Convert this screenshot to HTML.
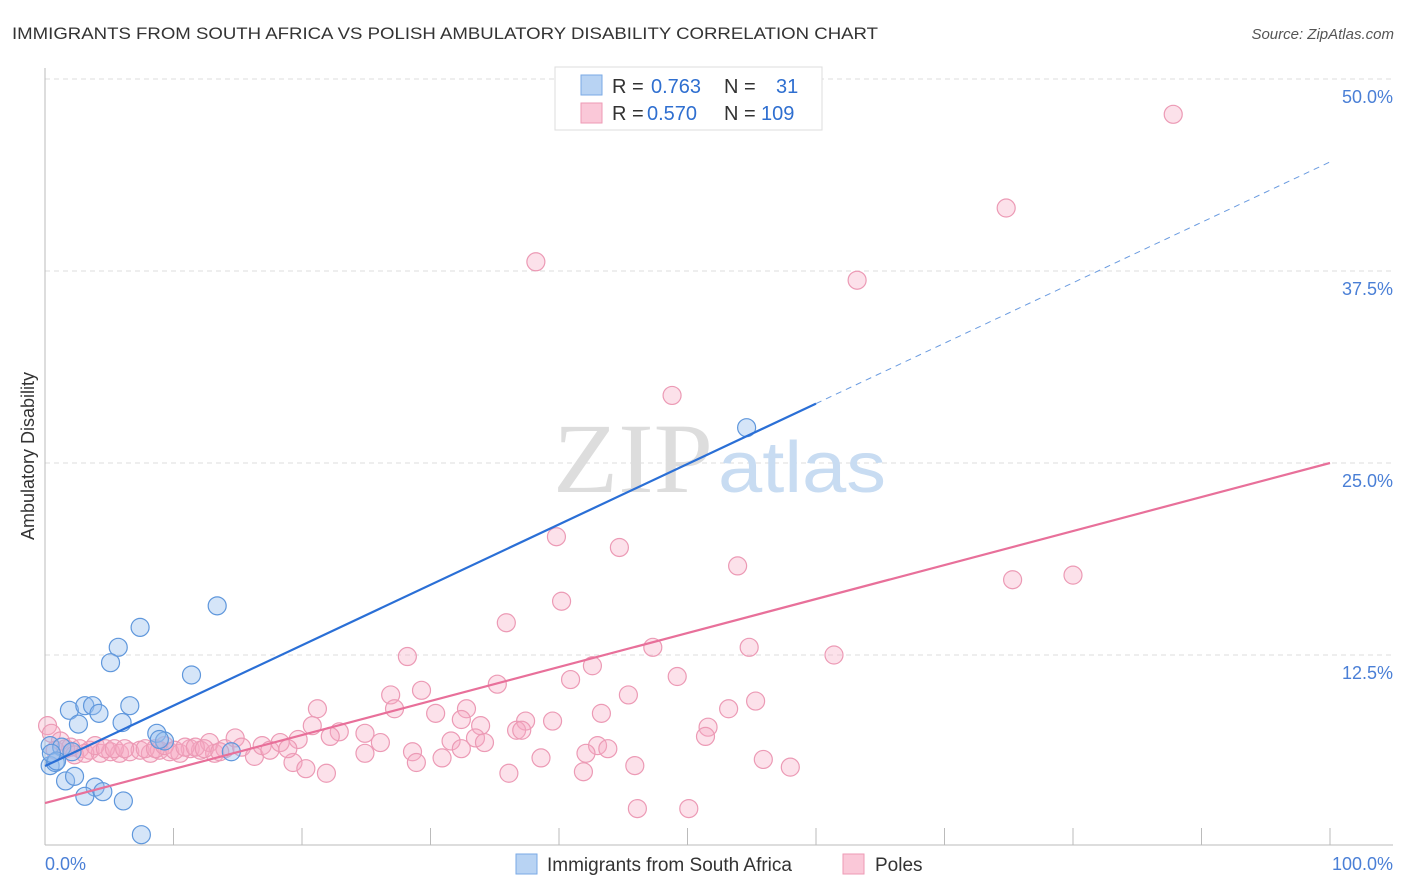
<!DOCTYPE html>
<html><head><meta charset="utf-8"><style>
body{margin:0;background:#fff;font-family:"Liberation Sans",sans-serif;}
svg{display:block}
</style></head><body>
<svg id="chart" width="1406" height="892" font-family="Liberation Sans, sans-serif">
<text x="12" y="39" font-size="17" fill="#333" textLength="866" lengthAdjust="spacingAndGlyphs">IMMIGRANTS FROM SOUTH AFRICA VS POLISH AMBULATORY DISABILITY CORRELATION CHART</text>
<text x="1394" y="39" font-size="15" fill="#555" font-style="italic" text-anchor="end">Source: ZipAtlas.com</text>
<text x="34" y="456" font-size="18" fill="#333" text-anchor="middle" transform="rotate(-90 34 456)">Ambulatory Disability</text>
<g id="grid"></g>
<g id="watermark">
<text x="553" y="492" font-size="100" fill="#ddd" font-family="Liberation Serif, serif" textLength="160" lengthAdjust="spacingAndGlyphs">ZIP</text>
<text x="718" y="492" font-size="72" fill="#c8dcf2" textLength="168" lengthAdjust="spacingAndGlyphs">atlas</text>
</g>
<g id="axes"></g>
<g id="pinkPts"></g>
<g id="bluePts"></g>
<g id="lines"></g>
<g>
<rect x="555" y="67" width="267" height="63" fill="#fff" stroke="#ddd"/>
<rect x="581" y="75" width="21" height="20" fill="#b8d3f3" stroke="#7aa9e6"/>
<rect x="581" y="103" width="21" height="20" fill="#fac8d8" stroke="#ee9ab5"/>
<text font-size="20" fill="#333"><tspan x="612" y="93">R = </tspan><tspan x="651" fill="#2f6fd0">0.763</tspan><tspan x="724">N = </tspan><tspan x="776" fill="#2f6fd0">31</tspan></text>
<text font-size="20" fill="#333"><tspan x="612" y="120">R = </tspan><tspan x="647" fill="#2f6fd0">0.570</tspan><tspan x="724">N = </tspan><tspan x="761" fill="#2f6fd0">109</tspan></text>
</g>
<g>
<rect x="516" y="854" width="21" height="20" fill="#b8d3f3" stroke="#7aa9e6"/>
<text x="547" y="871" font-size="19" fill="#333">Immigrants from South Africa</text>
<rect x="843" y="854" width="21" height="20" fill="#fac8d8" stroke="#ee9ab5"/>
<text x="875" y="871" font-size="19" fill="#333">Poles</text>
</g>
<text x="45" y="870" font-size="18" fill="#4a7fd6">0.0%</text>
<text x="1393" y="870" font-size="18" fill="#4a7fd6" text-anchor="end">100.0%</text>
</svg>
<script>
const yTicks=[50,37.5,25,12.5];
const yTickLabels=["50.0%","37.5%","25.0%","12.5%"];
const blueX=[13.4,7.4,5.7,5.1,11.4,1.9,3.1,3.7,4.2,6.6,2.6,6.0,8.7,9.3,8.9,14.5,0.4,1.3,2.1,0.4,0.8,0.9,1.6,2.3,3.9,4.5,3.1,6.1,7.5,54.6,0.5];
const blueY=[15.7,14.3,13.0,12.0,11.2,8.9,9.2,9.2,8.7,9.2,8.0,8.1,7.4,6.9,7.0,6.2,6.6,6.5,6.2,5.3,5.5,5.6,4.3,4.6,3.9,3.6,3.3,3.0,0.8,27.3,6.1];
const pinkX=[87.8,74.8,38.2,63.2,48.8,39.8,44.7,53.9,75.3,80.0,40.2,35.9,28.2,42.6,47.3,54.8,61.4,40.9,49.2,35.2,26.9,29.3,45.4,55.3,21.2,27.2,43.3,53.2,30.4,32.8,32.4,20.8,33.9,37.4,39.5,51.6,36.7,22.9,24.9,33.5,37.1,51.4,22.2,31.6,34.2,26.1,43.0,43.8,24.9,19.7,28.6,32.4,28.9,30.9,42.1,55.9,19.3,20.3,21.9,36.1,38.6,45.9,41.9,58.0,46.1,50.1,
0.2,0.5,1.2,2,2.7,3.5,4.3,5.1,5.8,6.6,7.4,8.2,8.9,9.7,10.5,11.3,12.1,12.8,13.2,14,14.8,15.3,16.3,16.9,17.5,18.3,18.9,0.8,1.6,2.3,3.1,3.9,4.7,5.4,6.2,7.8,8.6,9.3,10.1,10.9,11.7,12.4,13.6];
const pinkY=[47.7,41.6,38.1,36.9,29.4,20.2,19.5,18.3,17.4,17.7,16.0,14.6,12.4,11.8,13.0,13.0,12.5,10.9,11.1,10.6,9.9,10.2,9.9,9.5,9.0,9.0,8.7,9.0,8.7,9.0,8.3,7.9,7.9,8.2,8.2,7.8,7.6,7.5,7.4,7.1,7.6,7.2,7.2,6.9,6.8,6.8,6.6,6.4,6.1,7.0,6.2,6.4,5.5,5.8,6.1,5.7,5.5,5.1,4.8,4.8,5.8,5.3,4.9,5.2,2.5,2.5,
7.9,7.4,6.9,6.5,6.4,6.3,6.1,6.2,6.1,6.2,6.3,6.1,6.3,6.2,6.1,6.4,6.3,6.8,6.1,6.4,7.1,6.5,5.9,6.6,6.3,6.8,6.4,6.3,6.4,6.0,6.1,6.6,6.4,6.4,6.4,6.4,6.4,6.6,6.3,6.5,6.5,6.4,6.2];
const blueTrend=[5.27,44.6];
const pinkTrend=[2.86,25.0];
const NS="http://www.w3.org/2000/svg";
const X0=45,X1=1330,Y0=847,YPX=15.36;
function sx(v){return X0+(X1-X0)*v/100;}
function sy(v){return Y0-v*YPX;}
function mk(tag,attrs,parent){const e=document.createElementNS(NS,tag);for(const k in attrs)e.setAttribute(k,attrs[k]);document.getElementById(parent).appendChild(e);return e;}
yTicks.forEach((t,i)=>{
  const l=mk('line',{x1:45,x2:1393,y1:sy(t),y2:sy(t),stroke:'#ddd','stroke-dasharray':'5,4'},'grid');
  
  
  const tx=mk('text',{x:1393,y:sy(t)+24,'font-size':18,fill:'#4a7fd6','text-anchor':'end'},'grid');
  tx.textContent=yTickLabels[i];
  
  
});
let a=mk('line',{x1:45,x2:45,y1:68,y2:845,stroke:'#bbb'},'axes');


a=mk('line',{x1:45,x2:1393,y1:845,y2:845,stroke:'#bbb'},'axes');


for(let i=1;i<=10;i++){
  const t=mk('line',{x1:sx(i*10),x2:sx(i*10),y1:828,y2:845,stroke:'#bbb'},'axes');
  
  
}
pinkX.forEach((x,i)=>{
  const c=mk('circle',{cx:sx(x),cy:sy(pinkY[i]),r:9,fill:'rgba(246,170,196,0.35)',stroke:'#ec9ab5','stroke-width':1.2},'pinkPts');
  
  
});
blueX.forEach((x,i)=>{
  const c=mk('circle',{cx:sx(x),cy:sy(blueY[i]),r:9,fill:'rgba(150,190,238,0.4)',stroke:'#5f97dc','stroke-width':1.2},'bluePts');
  
  
});
const bAt=x=>blueTrend[0]+(blueTrend[1]-blueTrend[0])*x/100;
let ln=mk('line',{x1:sx(0),y1:sy(bAt(0)),x2:sx(60),y2:sy(bAt(60)),stroke:'#2a6fd6','stroke-width':2.2},'lines');


ln=mk('line',{x1:sx(60),y1:sy(bAt(60)),x2:sx(100),y2:sy(bAt(100)),stroke:'#6a9be0','stroke-width':1,'stroke-dasharray':'6,5'},'lines');


ln=mk('line',{x1:sx(0),y1:sy(pinkTrend[0]),x2:sx(100),y2:sy(pinkTrend[1]),stroke:'#e8709a','stroke-width':2.2},'lines');


</script>
</body></html>
